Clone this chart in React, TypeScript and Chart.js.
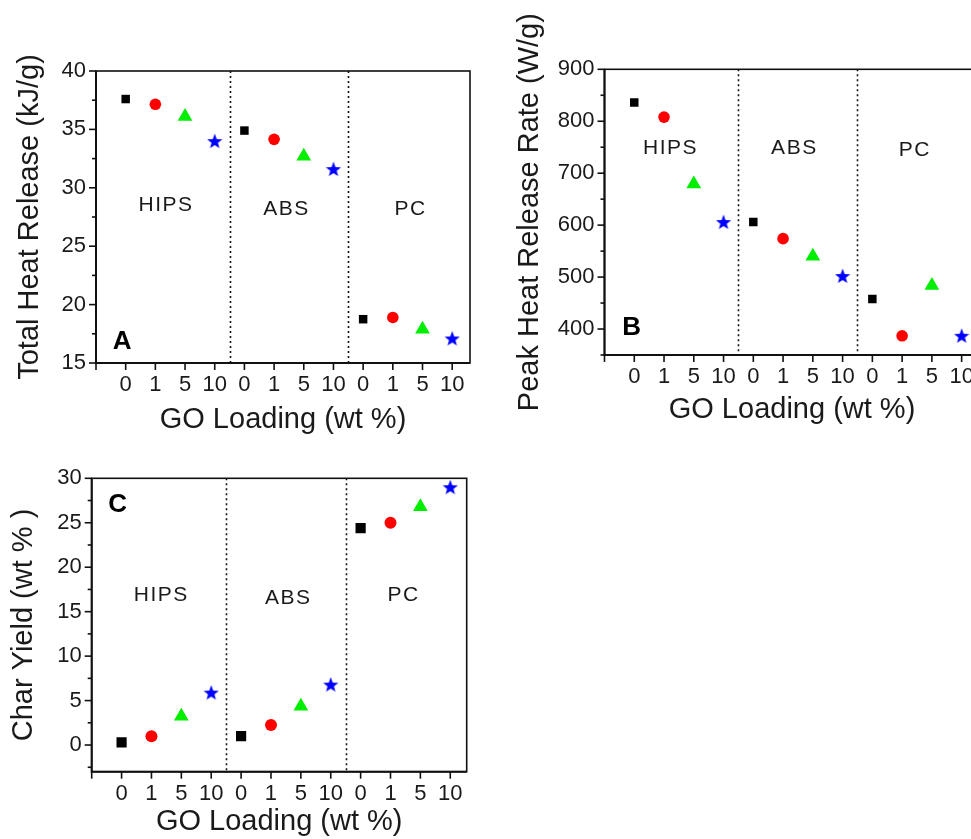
import React, { useEffect, useRef } from 'react';
import { Chart, registerables } from 'chart.js';

Chart.register(...registerables);

// ---------------- data ----------------
const polymers = ['HIPS', 'ABS', 'PC'];
const loadings = ['0', '1', '5', '10'];

// values ordered HIPS(0,1,5,10), ABS(0,1,5,10), PC(0,1,5,10)
const totalHeatRelease = [37.6, 37.15, 36.1, 34.0, 34.9, 34.15, 32.7, 31.6, 18.75, 18.9, 17.9, 17.1];
const peakHeatReleaseRate = [836, 808, 679, 606, 606, 574, 540, 502, 458, 387, 484, 387];
const charYield = [0.3, 1.0, 3.25, 5.9, 1.0, 2.25, 4.35, 6.8, 24.4, 25.0, 26.8, 29.0];

const thrTicks = [15, 17.5, 20, 22.5, 25, 27.5, 30, 32.5, 35, 37.5, 40];
const phrrTicks = [350, 400, 450, 500, 550, 600, 650, 700, 750, 800, 850, 900];
const charTicks = [-2.5, 0, 2.5, 5, 7.5, 10, 12.5, 15, 17.5, 20, 22.5, 25, 27.5, 30];
const xTickPositions = [0, 1, 2, 3, 4, 5, 6, 7, 8, 9, 10, 11, 12];
const separators = [4.5, 8.5];

const markerColors = ['#000000', '#ff0000', '#00ee00', '#0000ff'];

const FONT = 'Arial, "Liberation Sans", sans-serif';
const TEXT = '#1a1a1a';

function makeStar(color: string, size: number) {
  const c = document.createElement('canvas');
  c.width = size;
  c.height = size;
  const g = c.getContext('2d')!;
  const cx = size / 2, cy = size / 2 + 0.6;
  const ro = size / 2, ri = ro * 0.42;
  g.beginPath();
  for (let i = 0; i < 10; i++) {
    const r = i % 2 === 0 ? ro : ri;
    const a = -Math.PI / 2 + (i * Math.PI) / 5;
    const px = cx + r * Math.cos(a), py = cy + r * Math.sin(a);
    if (i === 0) g.moveTo(px, py); else g.lineTo(px, py);
  }
  g.closePath();
  g.fillStyle = color;
  g.fill();
  return c;
}

type PanelDef = {
  left: number; top: number; width: number; height: number;
  padTop: number; padRight: number; yWidth: number; xHeight: number;
  yMin: number; yMax: number; yTicks: number[]; majorStep: number;
  xMax: number;
  values: number[];
  radii: number[];
  yTitle: string; yTitlePad: number; xTitlePad: number;
  groupLabels: { x: number; y: number }[];
  letter: string; letterPos: { x: number; y: number };
};

const panels: PanelDef[] = [
  {
    left: 0, top: 0, width: 485, height: 450,
    padTop: 71, padRight: 15, yWidth: 96, xHeight: 87,
    yMin: 15, yMax: 40, yTicks: thrTicks, majorStep: 5, xMax: 12.6,
    values: totalHeatRelease,
    radii: [6, 5.8, 8.5, 8],
    yTitle: 'Total Heat Release (kJ/g)', yTitlePad: 12.6, xTitlePad: 12.6,
    groupLabels: [{ x: 2.36, y: 28.5 }, { x: 6.42, y: 28.2 }, { x: 10.6, y: 28.2 }],
    letter: 'A', letterPos: { x: 0.88, y: 16.8 },
  },
  {
    left: 505, top: 0, width: 490, height: 450,
    padTop: 69.3, padRight: 15.5, yWidth: 99.5, xHeight: 95,
    yMin: 350, yMax: 900, yTicks: phrrTicks, majorStep: 100, xMax: 12.6,
    values: peakHeatReleaseRate,
    radii: [6, 5.8, 8.5, 8],
    yTitle: 'Peak Heat Release Rate (W/g)', yTitlePad: 7.6, xTitlePad: 22.6,
    groupLabels: [{ x: 2.22, y: 748 }, { x: 6.38, y: 748 }, { x: 10.43, y: 745 }],
    letter: 'B', letterPos: { x: 0.91, y: 402.5 },
  },
  {
    left: 0, top: 455, width: 485, height: 384,
    padTop: 23.3, padRight: 18.3, yWidth: 91.7, xHeight: 67.3,
    yMin: -3, yMax: 30, yTicks: charTicks, majorStep: 5, xMax: 12.55,
    values: charYield,
    radii: [7.2, 6, 8.5, 8],
    yTitle: 'Char Yield (wt % )', yTitlePad: 6.6, xTitlePad: 0,
    groupLabels: [{ x: 2.33, y: 16.8 }, { x: 6.58, y: 16.5 }, { x: 10.44, y: 16.9 }],
    letter: 'C', letterPos: { x: 0.87, y: 27 },
  },
];

const decorPlugin = {
  id: 'decor',
  beforeDatasetsDraw(chart: any) {
    const { ctx, chartArea: ca, scales } = chart;
    const x = scales.x;
    ctx.save();
    ctx.strokeStyle = '#111';
    ctx.lineWidth = 1.6;
    ctx.setLineDash([2, 3]);
    for (const s of separators) {
      const px = Math.round(x.getPixelForValue(s)) + 0.5;
      ctx.beginPath();
      ctx.moveTo(px, ca.top);
      ctx.lineTo(px, ca.bottom);
      ctx.stroke();
    }
    ctx.restore();
  },
  afterDraw(chart: any, _args: any, opts: any) {
    const { ctx, chartArea: ca, scales } = chart;
    const x = scales.x, y = scales.y;
    const p: PanelDef = opts.panel;
    ctx.save();
    ctx.strokeStyle = '#111';
    // frame
    ctx.lineWidth = 1.6;
    ctx.strokeRect(ca.left, ca.top, ca.right - ca.left, ca.bottom - ca.top);
    ctx.lineWidth = 2;
    ctx.beginPath();
    ctx.moveTo(ca.left, ca.top);
    ctx.lineTo(ca.left, ca.bottom);
    ctx.lineTo(ca.right, ca.bottom);
    ctx.stroke();
    // y ticks
    ctx.lineWidth = 1.6;
    for (const t of y.ticks) {
      const py = y.getPixelForValue(t.value);
      const r = t.value / p.majorStep;
      const major = Math.abs(r - Math.round(r)) < 1e-6;
      const len = major ? 7 : 4;
      ctx.beginPath();
      ctx.moveTo(ca.left, py);
      ctx.lineTo(ca.left - len, py);
      ctx.stroke();
    }
    // x ticks
    for (const t of x.ticks) {
      const px = x.getPixelForValue(t.value);
      ctx.beginPath();
      ctx.moveTo(px, ca.bottom);
      ctx.lineTo(px, ca.bottom + 7);
      ctx.stroke();
    }
    // group labels
    ctx.fillStyle = TEXT;
    ctx.textAlign = 'center';
    ctx.textBaseline = 'middle';
    ctx.font = `21px ${FONT}`;
    try { (ctx as any).letterSpacing = '1.5px'; } catch (e) {}
    polymers.forEach((name, i) => {
      const g = p.groupLabels[i];
      ctx.fillText(name, x.getPixelForValue(g.x), y.getPixelForValue(g.y));
    });
    try { (ctx as any).letterSpacing = '0px'; } catch (e) {}
    // panel letter
    ctx.fillStyle = '#000';
    ctx.font = `bold 26px ${FONT}`;
    ctx.fillText(p.letter, x.getPixelForValue(p.letterPos.x), y.getPixelForValue(p.letterPos.y));
    ctx.restore();
  },
};

function buildChart(canvas: HTMLCanvasElement, p: PanelDef) {
  const star = makeStar(markerColors[3], 16);
  const styles: any[] = ['rect', 'circle', 'triangle', star];
  const datasets = loadings.map((ld, li) => ({
    label: ld + ' wt %',
    data: polymers.map((_, pi) => ({ x: pi * 4 + li + 1, y: p.values[pi * 4 + li] })),
    pointStyle: styles[li],
    pointRadius: p.radii[li],
    pointHoverRadius: p.radii[li],
    backgroundColor: markerColors[li],
    borderColor: markerColors[li],
    borderWidth: 0,
    showLine: false,
  }));
  return new Chart(canvas, {
    type: 'scatter',
    data: { datasets },
    plugins: [decorPlugin],
    options: {
      animation: false,
      responsive: false,
      maintainAspectRatio: false,
      layout: { padding: { top: p.padTop, right: p.padRight, left: 0, bottom: 0 } },
      plugins: {
        legend: { display: false },
        tooltip: { enabled: false },
        decor: { panel: p },
      } as any,
      scales: {
        x: {
          type: 'linear',
          min: 0,
          max: p.xMax,
          afterBuildTicks: (s: any) => { s.ticks = xTickPositions.map((v) => ({ value: v })); },
          afterFit: (s: any) => { s.height = p.xHeight; },
          grid: { display: false, drawTicks: false },
          border: { display: false },
          ticks: {
            autoSkip: false,
            maxRotation: 0,
            padding: 9,
            color: TEXT,
            font: { family: FONT, size: 22 },
            callback: (v: any) => {
              const i = Math.round(Number(v));
              return i >= 1 && i <= 12 ? loadings[(i - 1) % 4] : '';
            },
          },
          title: {
            display: true,
            text: 'GO Loading (wt %)',
            color: TEXT,
            font: { family: FONT, size: 29 },
            padding: { top: 0, bottom: p.xTitlePad },
          },
        },
        y: {
          type: 'linear',
          min: p.yMin,
          max: p.yMax,
          afterBuildTicks: (s: any) => { s.ticks = p.yTicks.map((v) => ({ value: v })); },
          afterFit: (s: any) => { s.width = p.yWidth; },
          grid: { display: false, drawTicks: false },
          border: { display: false },
          ticks: {
            autoSkip: false,
            padding: 10,
            color: TEXT,
            font: { family: FONT, size: 22 },
            callback: (v: any) => {
              const n = Number(v);
              const r = n / p.majorStep;
              return Math.abs(r - Math.round(r)) < 1e-6 ? String(n) : '';
            },
          },
          title: {
            display: true,
            text: p.yTitle,
            color: TEXT,
            font: { family: FONT, size: 29 },
            padding: { top: p.yTitlePad, bottom: 0 },
          },
        },
      },
    } as any,
  });
}

function Panel({ p }: { p: PanelDef }) {
  const ref = useRef<HTMLCanvasElement | null>(null);
  useEffect(() => {
    if (!ref.current) return;
    const chart = buildChart(ref.current, p);
    return () => chart.destroy();
  }, [p]);
  return (
    <canvas
      ref={ref}
      width={p.width}
      height={p.height}
      style={{ position: 'absolute', left: p.left, top: p.top, width: p.width, height: p.height }}
    />
  );
}

export default function App() {
  return (
    <div
      style={{
        position: 'fixed', left: 0, top: 0, width: 971, height: 839,
        overflow: 'hidden', background: '#ffffff',
      }}
    >
      {panels.map((p, i) => <Panel key={i} p={p} />)}
    </div>
  );
}
